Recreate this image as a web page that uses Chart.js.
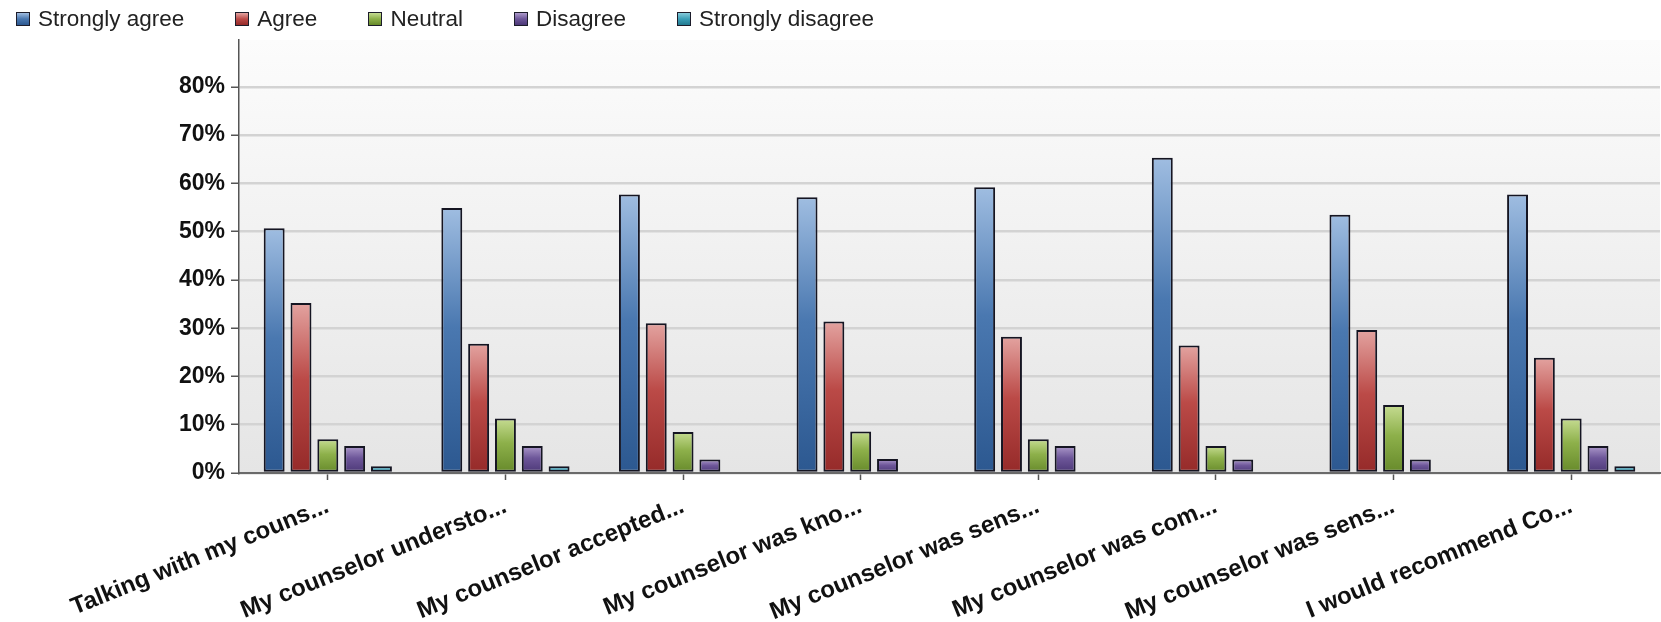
<!DOCTYPE html>
<html>
<head>
<meta charset="utf-8">
<script src="https://cdn.jsdelivr.net/npm/chart.js@4/dist/chart.umd.min.js"></script>
<style>
  html, body { margin: 0; padding: 0; background: #fff; }
  #wrap { position: relative; width: 1661px; height: 622px; }
  #legend {
    position: absolute; left: 16px; top: 6px; display: flex; align-items: center;
    font-family: "Liberation Sans", Arial, sans-serif; font-size: 22.5px; color: #222;
  }
  .item { display: flex; align-items: center; margin-right: 51px; }
  .box { width: 12px; height: 12px; border: 1.5px solid #1c1c2a; margin-right: 8px; }
</style>
</head>
<body>
<div id="wrap">
  <canvas id="chart" width="1661" height="622"></canvas>
  <div id="legend"></div>
</div>
<script>
// ─────────────── DATA ───────────────
const categories = [
  'Talking with my couns...',
  'My counselor understo...',
  'My counselor accepted...',
  'My counselor was kno...',
  'My counselor was sens...',
  'My counselor was com...',
  'My counselor was sens...',
  'I would recommend Co...'
];
const seriesNames = ['Strongly agree', 'Agree', 'Neutral', 'Disagree', 'Strongly disagree'];
const stronglyAgree    = [50.7, 54.9, 57.7, 57.1, 59.2, 65.3, 53.5, 57.7];
const agree            = [35.2, 26.8, 31.0, 31.4, 28.2, 26.4, 29.6, 23.9];
const neutral          = [7.0, 11.3, 8.5, 8.6, 7.0, 5.6, 14.1, 11.3];
const disagree         = [5.6, 5.6, 2.8, 2.9, 5.6, 2.8, 2.8, 5.6];
const stronglyDisagree = [1.4, 1.4, 0, 0, 0, 0, 0, 1.4];
const yTicks = [0, 10, 20, 30, 40, 50, 60, 70, 80];

// light / mid / dark shades per series
const shades = [
  ['#9fbde1', '#4a78b0', '#2c5890'],
  ['#e3a3a0', '#bb4a47', '#952a29'],
  ['#c6dc92', '#8db04a', '#66892a'],
  ['#ad9acb', '#6d5699', '#4b3776'],
  ['#86cbdb', '#3c9fb7', '#237a90']
];

const barFill = (s) => (c) => {
  const chart = c.chart;
  if (!chart.chartArea || c.type !== 'data') return s[1];
  const y = chart.scales.y;
  const top = y.getPixelForValue(c.raw);
  const bot = y.getPixelForValue(0);
  if (bot - top < 1) return s[1];
  const g = chart.ctx.createLinearGradient(0, top, 0, bot);
  g.addColorStop(0, s[0]);
  g.addColorStop(0.45, s[1]);
  g.addColorStop(1, s[2]);
  return g;
};

// ─────────────── LEGEND (html) ───────────────
const legendEl = document.getElementById('legend');
seriesNames.forEach((name, i) => {
  const item = document.createElement('div');
  item.className = 'item';
  const box = document.createElement('span');
  box.className = 'box';
  box.style.background = `linear-gradient(${shades[i][0]}, ${shades[i][1]} 50%, ${shades[i][2]})`;
  const txt = document.createElement('span');
  txt.textContent = name;
  item.appendChild(box);
  item.appendChild(txt);
  legendEl.appendChild(item);
});

// plot area gradient
const plotBg = {
  id: 'plotBg',
  beforeDraw(chart) {
    const { ctx, chartArea: a } = chart;
    const g = ctx.createLinearGradient(0, a.top, 0, a.bottom);
    g.addColorStop(0, '#fcfcfc');
    g.addColorStop(1, '#e5e5e5');
    ctx.save();
    ctx.fillStyle = g;
    ctx.fillRect(a.left, a.top, a.width, a.height);
    ctx.restore();
  }
};

const values = [stronglyAgree, agree, neutral, disagree, stronglyDisagree];

new Chart(document.getElementById('chart'), {
  type: 'bar',
  data: {
    labels: categories,
    datasets: values.map((data, i) => ({
      label: seriesNames[i],
      data: data,
      backgroundColor: barFill(shades[i]),
      borderColor: '#151522',
      borderWidth: 2,
      borderSkipped: false,
      categoryPercentage: 0.755,
      barPercentage: 0.78
    }))
  },
  options: {
    responsive: false,
    animation: false,
    layout: { padding: { top: 40, right: 1, left: 0, bottom: 0 } },
    plugins: {
      legend: { display: false },
      tooltip: { enabled: false }
    },
    scales: {
      x: {
        grid: { display: true, drawOnChartArea: false, offset: false, tickLength: 7, tickColor: '#555', tickWidth: 1.5 },
        border: { color: '#6a6a6a', width: 2 },
        ticks: {
          color: '#111',
          font: { family: '"Liberation Sans", Arial, sans-serif', size: 24, weight: 'bold' },
          minRotation: 22,
          maxRotation: 22,
          padding: 12,
          autoSkip: false
        },
        afterFit: (s) => { s.height = 149; }
      },
      y: {
        min: 0,
        max: 89.7,
        afterBuildTicks: (s) => { s.ticks = yTicks.map(v => ({ value: v })); },
        grid: { color: '#d3d3d3', lineWidth: 2.5, tickLength: 8, tickColor: '#555', tickWidth: 1.5 },
        border: { color: '#555', width: 1.5 },
        ticks: {
          color: '#111',
          font: { family: '"Liberation Sans", Arial, sans-serif', size: 23, weight: 'bold' },
          padding: 6,
          callback: (v) => v + '%'
        },
        afterFit: (s) => { s.width = 239; }
      }
    }
  },
  plugins: [plotBg]
});
</script>
</body>
</html>
